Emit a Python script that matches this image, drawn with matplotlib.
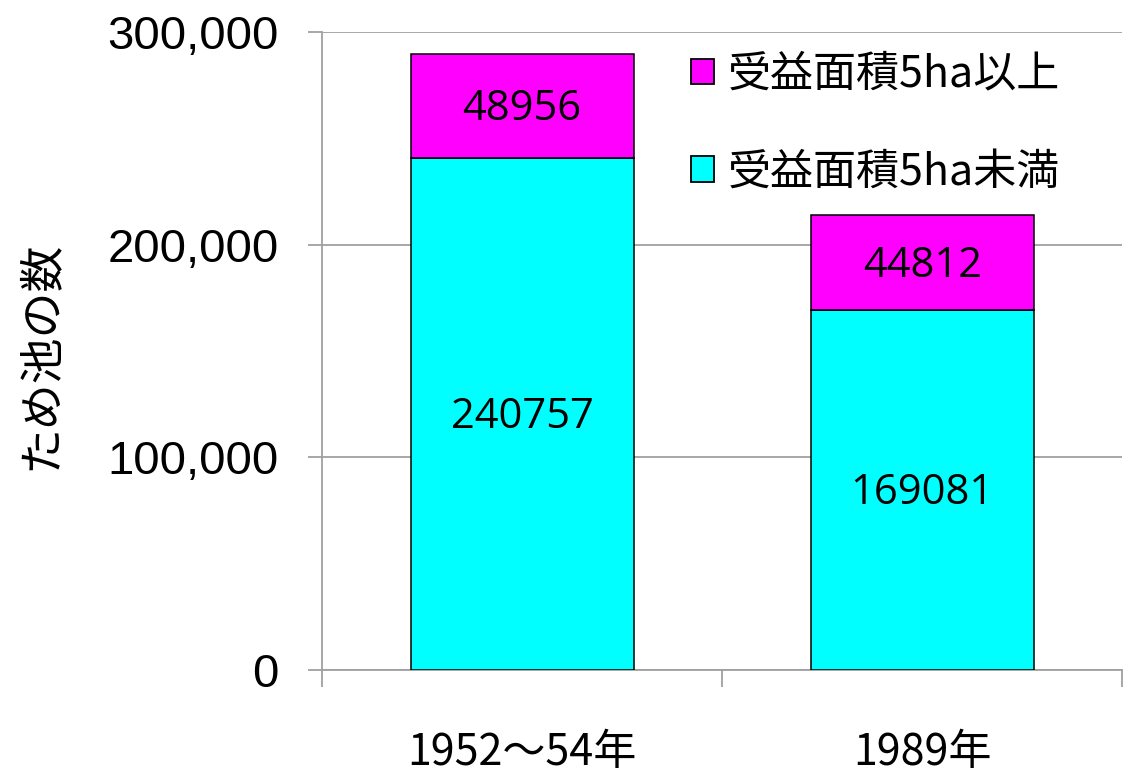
import matplotlib.pyplot as plt
from matplotlib.patches import Patch
from matplotlib.ticker import FuncFormatter, FixedLocator

# ため池の数（受益面積別）
periods = ["1952～54年", "1989年"]
small_ponds = [240757, 169081]   # 受益面積5ha未満
large_ponds = [48956, 44812]     # 受益面積5ha以上
series_names = ["受益面積5ha未満", "受益面積5ha以上"]
y_ticks = [0, 100000, 200000, 300000]

cjk = ["Noto Sans CJK JP", "DejaVu Sans"]
grid_gray = "#a0a0a0"

fig = plt.figure(figsize=(11.24, 7.79), dpi=100)
ax = fig.add_axes([0.2865, 0.1399, 0.712, 0.819])

x = list(range(len(periods)))
w = 0.5575
b1 = ax.bar(x, small_ponds, w, color="#00FFFF", edgecolor="black", linewidth=1.1, zorder=3)
b2 = ax.bar(x, large_ponds, w, bottom=small_ponds, color="#FF00FF",
            edgecolor="black", linewidth=1.1, zorder=3)

for i in x:
    ax.text(i, small_ponds[i] / 2 - 1500, str(small_ponds[i]), ha="center", va="center",
            fontsize=30, family="Open Sans", zorder=4)
    ax.text(i, small_ponds[i] + large_ponds[i] / 2 - 1500, str(large_ponds[i]),
            ha="center", va="center", fontsize=30, family="Open Sans", zorder=4)

ax.set_xlim(-0.5, 1.5)
ax.set_ylim(0, 300000)

ax.set_yticks(y_ticks)
ax.yaxis.set_major_formatter(FuncFormatter(lambda v, p: f"{int(v):,}"))
ax.tick_params(axis="y", length=10, width=1.3, color=grid_gray, pad=21,
               labelsize=34)
for lab in ax.get_yticklabels():
    lab.set_family("Liberation Sans")
ax.yaxis.grid(True, color=grid_gray, linewidth=1.3, zorder=0)

ax.set_xticks(x)
ax.set_xticklabels(periods, family=cjk, fontsize=31)
ax.tick_params(axis="x", which="major", length=0, pad=44)
ax.xaxis.set_minor_locator(FixedLocator([-0.5, 0.5, 1.5]))
ax.tick_params(axis="x", which="minor", length=12, width=1.3, color=grid_gray)

for side in ["top", "right"]:
    ax.spines[side].set_visible(False)
for side in ["left", "bottom"]:
    ax.spines[side].set_color(grid_gray)
    ax.spines[side].set_linewidth(1.3)

ax.set_ylabel("ため池の数", family=cjk, fontsize=33)
ax.yaxis.set_label_coords(-0.322, 0.494)

handles = [Patch(facecolor="#FF00FF", edgecolor="black", linewidth=1.3),
           Patch(facecolor="#00FFFF", edgecolor="black", linewidth=1.3)]
leg = ax.legend(handles, [series_names[1], series_names[0]], loc="upper left",
                bbox_to_anchor=(0.44, 0.995), frameon=False,
                prop={"family": cjk, "size": 31},
                handlelength=0.52, handleheight=0.52, handletextpad=0.33,
                labelspacing=1.25, borderaxespad=0)

fig.savefig("out.png", dpi=100)
